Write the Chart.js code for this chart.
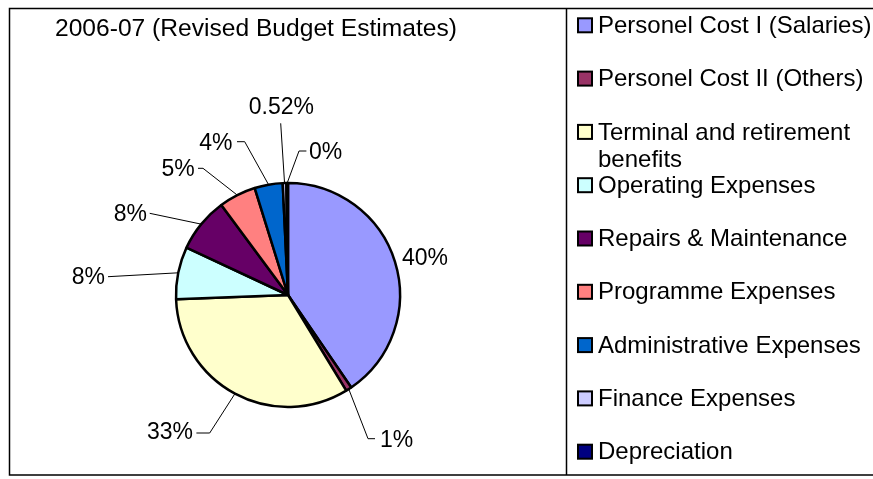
<!DOCTYPE html>
<html>
<head>
<meta charset="utf-8">
<script src="https://cdn.jsdelivr.net/npm/chart.js@4/dist/chart.umd.min.js"></script>
<style>
  html, body { margin: 0; padding: 0; background: #fff; }
  #wrap { width: 873px; height: 479px; }
</style>
</head>
<body>
<div id="wrap"><canvas id="c" width="873" height="479"></canvas></div>
<script>
// Budget heads, 2006-07 revised estimates (share of total, %)
const categories = [
  'Personel Cost I (Salaries)',
  'Personel Cost II (Others)',
  ['Terminal and retirement', 'benefits'],
  'Operating Expenses',
  'Repairs & Maintenance',
  'Programme Expenses',
  'Administrative Expenses',
  'Finance Expenses',
  'Depreciation'
];
const shares = [40.45, 0.85, 33.1, 7.55, 7.9, 5.35, 4.05, 0.52, 0.23];
const labelDecimals = [0, 0, 0, 0, 0, 0, 0, 2, 0];
const sliceColors = ['#9999FF', '#993366', '#FFFFCC', '#CCFFFF', '#660066',
                     '#FF8080', '#0066CC', '#CCCCFF', '#000080'];
const chartTitle = '2006-07 (Revised Budget Estimates)';

// Label placement relative to the pie centre: text anchor (x, y), text alignment,
// and an optional elbow point for the leader line (null = straight leader / none).
const labelLayout = [
  { tx: 114, ty: -37, align: 'left',   elbow: null, end: null, leader: false },
  { tx: 92,  ty: 145, align: 'left',   elbow: [80, 143.7],  end: [87, 143.7], leader: true },
  { tx: -95, ty: 137, align: 'right',  elbow: [-78.3, 138], end: [-91.6, 138], leader: true },
  { tx: -183,ty: -18.3, align: 'right', elbow: null, end: [-180, -18.3], leader: true },
  { tx: -141,ty: -81.3, align: 'right', elbow: null, end: [-138.3, -81.7], leader: true },
  { tx: -93.3,ty: -126, align: 'right', elbow: [-85, -126.7], end: [-90, -126.7], leader: true },
  { tx: -55.6,ty: -152, align: 'right', elbow: [-43.3, -153.3], end: [-51, -153.3], leader: true },
  { tx: -6.6, ty: -188, align: 'center', elbow: null, end: [-7.3, -171.7], leader: true },
  { tx: 21,  ty: -143.3, align: 'left', elbow: [11, -144], end: [18.4, -144], leader: true }
];

const FONT = '"Liberation Sans", Arial, sans-serif';

const decorPlugin = {
  id: 'decor',
  afterDraw(chart) {
    const ctx = chart.ctx;
    ctx.save();

    // outer frame and legend divider
    ctx.strokeStyle = '#000';
    ctx.lineWidth = 1.5;
    ctx.beginPath();
    ctx.moveTo(880, 8.5); ctx.lineTo(9.5, 8.5); ctx.lineTo(9.5, 475); ctx.lineTo(880, 475);
    ctx.moveTo(566.5, 8.5); ctx.lineTo(566.5, 475);
    ctx.stroke();

    // title
    ctx.fillStyle = '#000';
    ctx.font = '24.6px ' + FONT;
    ctx.textAlign = 'left';
    ctx.textBaseline = 'middle';
    ctx.fillText(chartTitle, 55, 29.5);

    // legend
    const labels = chart.data.labels;
    const colors = chart.data.datasets[0].backgroundColor;
    labels.forEach((lab, i) => {
      const y = 25.3 + i * 53.3;
      ctx.fillStyle = colors[i];
      ctx.fillRect(578, y - 7, 14, 14);
      ctx.lineWidth = 2;
      ctx.strokeStyle = '#000';
      ctx.strokeRect(578, y - 7, 14, 14);
      ctx.fillStyle = '#000';
      ctx.font = '24px ' + FONT;
      const lines = Array.isArray(lab) ? lab : [lab];
      lines.forEach((t, k) => ctx.fillText(t, 598, y + 1 + k * 27));
    });

    // percentage labels with leader lines
    const meta = chart.getDatasetMeta(0);
    const values = chart.data.datasets[0].data;
    meta.data.forEach((arc, i) => {
      const p = arc.getProps(['x', 'y', 'startAngle', 'endAngle', 'outerRadius'], true);
      const cx = p.x, cy = p.y;
      const mid = (p.startAngle + p.endAngle) / 2;
      const L = labelLayout[i];
      if (L.leader) {
        const sx = cx + Math.cos(mid) * p.outerRadius;
        const sy = cy + Math.sin(mid) * p.outerRadius;
        ctx.strokeStyle = '#000';
        ctx.lineWidth = 1;
        ctx.beginPath();
        ctx.moveTo(sx, sy);
        if (L.elbow) ctx.lineTo(cx + L.elbow[0], cy + L.elbow[1]);
        ctx.lineTo(cx + L.end[0], cy + L.end[1]);
        ctx.stroke();
      }
      ctx.fillStyle = '#000';
      ctx.font = '23px ' + FONT;
      ctx.textAlign = L.align;
      ctx.textBaseline = 'middle';
      ctx.fillText(values[i].toFixed(labelDecimals[i]) + '%', cx + L.tx, cy + L.ty + 1);
    });
    ctx.restore();
  }
};

new Chart(document.getElementById('c'), {
  type: 'pie',
  data: {
    labels: categories,
    datasets: [{
      data: shares,
      backgroundColor: sliceColors,
      borderColor: '#000',
      borderWidth: 2.5
    }]
  },
  options: {
    responsive: false,
    animation: false,
    devicePixelRatio: 1,
    radius: 112,
    layout: { padding: { left: 176, right: 473, top: 183, bottom: 72 } },
    plugins: {
      legend: { display: false },
      tooltip: { enabled: false },
      title: { display: false }
    }
  },
  plugins: [decorPlugin]
});
</script>
</body>
</html>
